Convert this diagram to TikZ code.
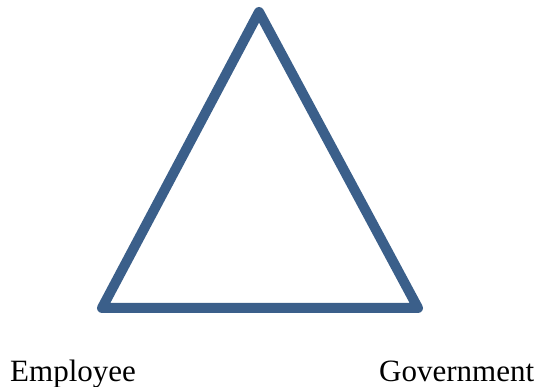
\documentclass[tikz,border=0pt]{standalone}
\usepackage{fontspec}
\setmainfont{Liberation Serif}
\definecolor{tri}{HTML}{3B5F8A}
\begin{document}
\begin{tikzpicture}[x=1pt,y=-1pt,
  lbl/.style={font=\fontsize{31}{36}\selectfont, inner sep=0pt, anchor=base west}]
\useasboundingbox (0,0) rectangle (539,387);
\coordinate (top) at (259,12);
\coordinate (bl) at (102,308);
\coordinate (br) at (418,308);
\draw[tri, line width=10pt, line join=round] (top) -- (bl) -- (br) -- cycle;
\node[lbl] (emp) at (10,382) {Employee};
\node[lbl] (gov) at (379,382) {Government};
\end{tikzpicture}
\end{document}
